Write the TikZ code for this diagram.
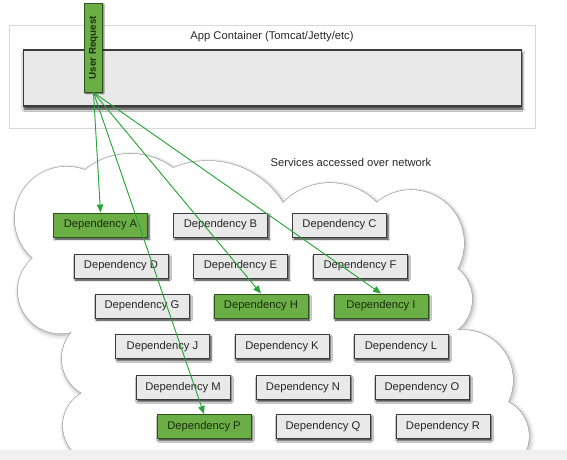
\documentclass[tikz,border=0pt]{standalone}
\usepackage{fontspec}
\setmainfont{Liberation Sans}
\usetikzlibrary{arrows.meta,shadows.blur}
\definecolor{greenfill}{RGB}{108,174,70}
\definecolor{greenborder}{RGB}{45,85,30}
\definecolor{greentext}{RGB}{25,45,15}
\definecolor{boxfill}{RGB}{233,233,233}
\definecolor{boxborder}{RGB}{60,60,60}
\definecolor{textgray}{RGB}{40,40,40}
\definecolor{linegreen}{RGB}{40,165,55}
\definecolor{contborder}{RGB}{215,215,215}
\definecolor{bandgray}{RGB}{240,240,240}
\begin{document}
\begin{tikzpicture}[x=1pt,y=-1pt,
  lbl/.style={font=\fontsize{11.2}{13}\selectfont, text=textgray, inner sep=0pt},
  dep/.style={draw=boxborder, line width=1pt, fill=boxfill, minimum width=94pt,
    minimum height=24pt, inner sep=0pt, text=textgray,
    font=\fontsize{11.2}{13}\selectfont,
    blur shadow={shadow xshift=1.5pt, shadow yshift=-2pt, shadow blur radius=1.8pt, shadow opacity=85}},
  gdep/.style={dep, fill=greenfill, draw=greenborder, text=greentext},
  flow/.style={draw=linegreen, line width=0.9pt, -{Triangle[length=8pt,width=6.5pt]}, fill=linegreen}
]
\useasboundingbox (0,0) rectangle (567,459);
\fill[white] (0,0) rectangle (567,459);

% app container
\node[draw=contborder, line width=0.6pt, minimum width=526pt, minimum height=103pt, inner sep=0pt] (cont) at (272,76.5) {};
\node[lbl] (title) at (272,37) {App Container (Tomcat/Jetty/etc)};
\node[draw=boxborder, line width=1.1pt, fill=boxfill, minimum width=498pt, minimum height=56pt, inner sep=0pt,
  blur shadow={shadow xshift=0.5pt, shadow yshift=-3pt, shadow blur radius=2.5pt, shadow opacity=85}] (bar) at (272.75,78) {};
\node[draw=greenborder, line width=0.9pt, fill=greenfill, rotate=90, minimum width=89pt, minimum height=18pt,
  inner sep=0pt, text=greentext, font=\bfseries\fontsize{9.8}{11}\selectfont,
  blur shadow={shadow xshift=1pt, shadow yshift=-1pt, shadow blur radius=1pt, shadow opacity=60}] (ur) at (93.5,47.5) {User Request};

\node[lbl] (svc) at (351,162) {Services accessed over network};

% cloud as union of circles
\def\cloudcircles{66.6/218.5/51.9, 60.6/290.7/42.8, 101.5/358.5/39.7, 100.4/425.7/37.5,
  130.3/225.2/71.4, 207.8/249.1/88.2, 330/248.2/65.2, 411/243/53,
  432.9/299.2/39.2, 462.8/380.1/50.2, 490.5/436.1/38.4}
\foreach \a/\b/\r in \cloudcircles {\fill[black!5] (\a+1.5,\b+2) circle[radius=\r+4];}
\foreach \a/\b/\r in \cloudcircles {\fill[black!10] (\a+1.2,\b+1.6) circle[radius=\r+2.6];}
\foreach \a/\b/\r in \cloudcircles {\fill[black!20] (\a+0.8,\b+1.1) circle[radius=\r+1.3];}
\foreach \a/\b/\r in \cloudcircles {\draw[black!38, line width=1.2pt] (\a,\b) circle[radius=\r];}
\foreach \a/\b/\r in \cloudcircles {\fill[white] (\a,\b) circle[radius=\r];}
\fill[white] (85,172) -- (173,170) -- (283,205) -- (377,205) -- (452,265) -- (455,330) -- (506,402)
  -- (520,470) -- (80,470) -- (84,393) -- (74,332) -- (35,258) -- cycle;

% bottom band
\fill[bandgray] (0,450) rectangle (570,470);

% dependencies
\node[gdep] (a) at (100.5,225) {Dependency A};
\node[dep]  (b) at (220.5,225) {Dependency B};
\node[dep]  (c) at (339.5,225) {Dependency C};
\node[dep]  (d) at (121,266) {Dependency D};
\node[dep]  (e) at (240.5,266) {Dependency E};
\node[dep]  (f) at (360,266) {Dependency F};
\node[dep]  (g) at (142,306) {Dependency G};
\node[gdep] (h) at (261,306) {Dependency H};
\node[gdep] (i) at (381,306) {Dependency I};
\node[dep]  (j) at (162.5,346.5) {Dependency J};
\node[dep]  (k) at (282,346.5) {Dependency K};
\node[dep]  (l) at (401,346.5) {Dependency L};
\node[dep]  (m) at (183,387.5) {Dependency M};
\node[dep]  (n) at (303,387.5) {Dependency N};
\node[dep]  (o) at (422,387.5) {Dependency O};
\node[gdep] (p) at (204,426.5) {Dependency P};
\node[dep]  (q) at (323,426.5) {Dependency Q};
\node[dep]  (r) at (443,426.5) {Dependency R};

% connectors
\draw[flow] (ur.west) -- (a.north);
\draw[flow] (ur.west) -- (p.north);
\draw[flow] (ur.west) -- (h.north);
\draw[flow] (ur.west) -- (i.north);
\end{tikzpicture}
\end{document}
